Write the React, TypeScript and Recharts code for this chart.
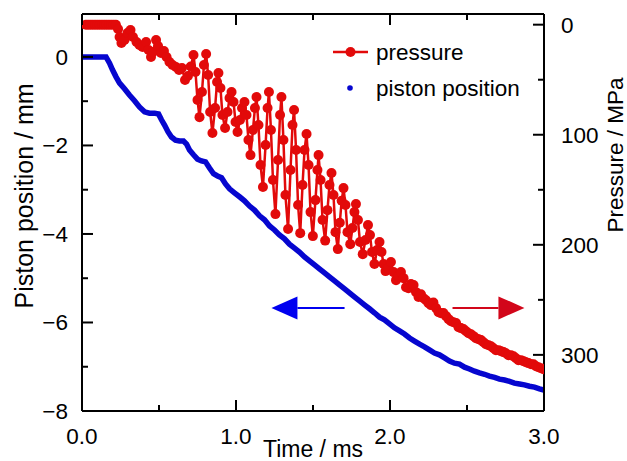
import React from 'react';
import { LineChart, Line, XAxis, YAxis, ReferenceLine, Legend } from 'recharts';

// pressure trace (time in ms, pressure in MPa)
const pressureTime = [
  0.025, 0.04, 0.055, 0.07, 0.085, 0.1, 0.115, 0.13, 0.145, 0.16, 0.175, 0.19, 0.205, 0.22,
  0.234, 0.244, 0.256, 0.276, 0.295, 0.315, 0.331, 0.354, 0.373, 0.393, 0.416, 0.432, 0.448,
  0.461, 0.481, 0.494, 0.513, 0.532, 0.549, 0.568, 0.588, 0.61, 0.63, 0.649, 0.669, 0.688, 0.706,
  0.724, 0.737, 0.75, 0.763, 0.779, 0.792,
  0.806, 0.819, 0.832, 0.847, 0.864, 0.877,
  0.886, 0.899, 0.912, 0.929, 0.945, 0.958,
  0.971, 0.984, 0.997, 1.01, 1.026, 1.039,
  1.055, 1.068, 1.081, 1.094, 1.11, 1.123,
  1.133, 1.146, 1.159, 1.175, 1.192, 1.205,
  1.214, 1.227, 1.24, 1.256, 1.273, 1.286,
  1.295, 1.308, 1.321, 1.338, 1.354, 1.367,
  1.377, 1.39, 1.403, 1.417, 1.432, 1.445,
  1.458, 1.471, 1.484, 1.499, 1.516, 1.529,
  1.536, 1.549, 1.562, 1.579, 1.594, 1.607,
  1.62, 1.633, 1.646, 1.661, 1.674, 1.686,
  1.698, 1.711, 1.724, 1.742, 1.756, 1.769,
  1.779, 1.792, 1.805, 1.823, 1.841,
  1.857, 1.87, 1.883, 1.899, 1.916,
  1.932, 1.945, 1.958, 1.971,
  1.987, 2.006, 2.023, 2.039, 2.055, 2.071, 2.088, 2.104, 2.12, 2.136, 2.153, 2.169, 2.185,
  2.201, 2.218, 2.234, 2.25, 2.266, 2.282, 2.299, 2.315, 2.331, 2.347, 2.364, 2.38, 2.396,
  2.412, 2.429, 2.445, 2.461, 2.477, 2.494, 2.51, 2.526, 2.542, 2.558, 2.575, 2.591, 2.607,
  2.623, 2.64, 2.656, 2.672, 2.688, 2.705, 2.721, 2.737, 2.753, 2.769, 2.786, 2.802, 2.818,
  2.834, 2.851, 2.867, 2.883, 2.899, 2.916, 2.932, 2.948, 2.964, 2.981, 2.997,
];
const pressureValues = [
  0, 0, 0, 0, 0, 0, 0, 0, 0, 0, 0, 0, 0, 0,
  4.0, 11.2, 16.6, 13.9, 7.5, 4.8, 11.2, 15.7, 18.5, 20.3, 15.7, 23.0, 29.4,
  24.8, 13.9, 19.4, 25.7, 23.9, 29.4, 33.9, 36.6, 38.5, 41.2, 39.4, 50.3, 46.6, 38.0,
  27.5, 43.0, 68.5, 84.0, 61.2, 36.6,
  26.6, 45.7, 79.4, 98.5, 75.7, 52.1,
  43.9, 57.5, 82.1, 93.9, 79.4, 66.6,
  61.2, 70.3, 88.5, 97.5, 86.6, 75.7,
  70.3, 82.1, 104.8, 118.5, 95.7, 75.7,
  65.7, 91.2, 127.5, 147.5, 109.4, 75.7,
  61.2, 95.7, 141.2, 172.1, 123.0, 82.1,
  65.7, 104.8, 154.8, 185.7, 132.1, 91.2,
  77.5, 113.9, 163.9, 189.4, 145.7, 113.9,
  99.4, 127.5, 170.3, 192.1, 159.4, 132.1,
  118.5, 141.2, 177.5, 196.2, 168.5, 145.7,
  134.8, 154.8, 188.5, 203.9, 180.0, 160.0,
  148.5, 163.9, 188.5, 199.4, 184.8, 170.3,
  163.0, 177.5, 197.5, 208.5, 195.7,
  182.1, 191.2, 206.6, 217.5, 204.8,
  197.5, 206.6, 217.5, 223.9,
  221.2, 215.7, 224.8, 232.1, 228.5, 224.8, 230.3, 238.5, 239.4, 235.7, 236.6, 243.0, 247.5,
  245.0, 248.5, 250.3, 253.0, 254.8, 252.5, 257.5, 261.2, 262.1, 262.0, 264.8, 267.5, 269.4,
  270.3, 271.0, 274.8, 275.7, 276.6, 278.5, 280.3, 281.2, 283.0, 284.8, 285.7, 286.6, 288.5,
  290.3, 291.2, 292.1, 294.0, 295.7, 295.7, 296.6, 297.5, 298.5, 300.3, 300.3, 301.2, 303.0,
  304.8, 304.8, 305.7, 306.6, 307.5, 308.5, 308.5, 310.3, 311.2, 312.1, 313.0,
];

// piston position trace (time in ms, position in mm)
const pistonTime = [
  0, 0.049, 0.114, 0.156, 0.179, 0.198, 0.221, 0.244, 0.276, 0.308, 0.341, 0.373, 0.406, 0.438,
  0.471, 0.497, 0.516, 0.536, 0.558, 0.581, 0.607, 0.633, 0.659, 0.679, 0.698, 0.724, 0.75,
  0.776, 0.802, 0.828, 0.854, 0.88, 0.906, 0.932, 0.958, 0.99, 1.023, 1.055, 1.088, 1.12,
  1.153, 1.185, 1.218, 1.25, 1.282, 1.315, 1.347, 1.38, 1.412, 1.445, 1.477, 1.51, 1.542,
  1.575, 1.607, 1.64, 1.672, 1.705, 1.737, 1.769, 1.802, 1.834, 1.867, 1.899, 1.932, 1.964,
  1.997, 2.029, 2.062, 2.094, 2.127, 2.159, 2.192, 2.224, 2.256, 2.289, 2.321, 2.354, 2.386,
  2.419, 2.451, 2.484, 2.516, 2.549, 2.581, 2.614, 2.646, 2.679, 2.711, 2.744, 2.776, 2.808,
  2.841, 2.873, 2.906, 2.938, 2.971, 3.0,
];
const pistonValues = [
  0, 0, 0, 0, -0.14, -0.29, -0.45, -0.59, -0.72, -0.86, -0.99, -1.13, -1.24, -1.27,
  -1.27, -1.29, -1.42, -1.54, -1.69, -1.81, -1.88, -1.9, -1.9, -1.97, -2.1, -2.21, -2.31,
  -2.35, -2.37, -2.51, -2.64, -2.69, -2.73, -2.87, -2.98, -3.07, -3.16, -3.25, -3.37, -3.46,
  -3.59, -3.68, -3.82, -3.91, -4.02, -4.11, -4.23, -4.32, -4.41, -4.52, -4.61, -4.7, -4.79,
  -4.88, -4.97, -5.06, -5.15, -5.24, -5.33, -5.42, -5.51, -5.6, -5.69, -5.78, -5.88, -5.94,
  -6.03, -6.12, -6.19, -6.26, -6.35, -6.42, -6.49, -6.55, -6.62, -6.69, -6.73, -6.8, -6.87,
  -6.92, -6.94, -7.01, -7.05, -7.1, -7.14, -7.17, -7.21, -7.24, -7.28, -7.3, -7.33, -7.37,
  -7.39, -7.41, -7.44, -7.46, -7.5, -7.53,
];

const timeTicks = [0, 0.5, 1, 1.5, 2, 2.5, 3];
const positionTicks = [-8, -7, -6, -5, -4, -3, -2, -1, 0];
const pressureTicks = [0, 50, 100, 150, 200, 250, 300];

const pressureData = pressureTime.map((t, i) => ({ t, p: pressureValues[i] }));
const pistonData = pistonTime.map((t, i) => ({ t, pos: pistonValues[i] }));

const RED = '#e20a0a';
const BLUE = '#0606cf';
const FONT = '"Liberation Sans", Arial, Helvetica, sans-serif';
const TICK_FONT = 22.5;
const MAJOR = 11;
const MINOR = 6;

const BottomTick = (props: any) => {
  const { x, y, payload } = props;
  const major = Number.isInteger(payload.value);
  return (
    <g>
      <line x1={x} x2={x} y1={y} y2={y - (major ? MAJOR : MINOR)} stroke="#000" strokeWidth={2} />
      {major && (
        <text x={x} y={y + 33} textAnchor="middle" fontSize={TICK_FONT} fontFamily={FONT} fill="#000">
          {payload.value.toFixed(1)}
        </text>
      )}
    </g>
  );
};

const TopTick = (props: any) => {
  const { x, y, payload } = props;
  const major = Number.isInteger(payload.value);
  return <line x1={x} x2={x} y1={y} y2={y + (major ? MAJOR : MINOR)} stroke="#000" strokeWidth={2} />;
};

const LeftTick = (props: any) => {
  const { x, y, payload } = props;
  const major = payload.value % 2 === 0;
  return (
    <g>
      <line x1={x} x2={x + (major ? MAJOR : MINOR)} y1={y} y2={y} stroke="#000" strokeWidth={2} />
      {major && (
        <text x={x - 14} y={y + 8} textAnchor="end" fontSize={TICK_FONT} fontFamily={FONT} fill="#000">
          {payload.value < 0 ? '\u2212' + Math.abs(payload.value) : payload.value}
        </text>
      )}
    </g>
  );
};

const RightTick = (props: any) => {
  const { x, y, payload } = props;
  const major = payload.value % 100 === 0;
  return (
    <g>
      <line x1={x} x2={x - (major ? MAJOR : MINOR)} y1={y} y2={y} stroke="#000" strokeWidth={2} />
      {major && (
        <text x={x + 17} y={y + 8} textAnchor="start" fontSize={TICK_FONT} fontFamily={FONT} fill="#000">
          {payload.value}
        </text>
      )}
    </g>
  );
};

// arrow drawn along a reference segment, head on the given side
const arrowShape = (dir: 'left' | 'right', color: string) => (props: any) => {
  const { x1, x2, y1 } = props;
  const a = Math.min(x1, x2);
  const b = Math.max(x1, x2);
  const head = 26;
  const half = 11.5;
  if (dir === 'left') {
    return (
      <g>
        <line x1={a + head} x2={b} y1={y1} y2={y1} stroke={color} strokeWidth={2} />
        <polygon points={`${a},${y1} ${a + head},${y1 - half} ${a + head},${y1 + half}`} fill={color} />
      </g>
    );
  }
  return (
    <g>
      <line x1={a} x2={b - head} y1={y1} y2={y1} stroke={color} strokeWidth={2} />
      <polygon points={`${b},${y1} ${b - head},${y1 - half} ${b - head},${y1 + half}`} fill={color} />
    </g>
  );
};

const renderLegend = () => (
  <svg width={230} height={80} style={{ display: 'block' }}>
    <line x1={8} x2={43} y1={16} y2={16} stroke={RED} strokeWidth={2.5} />
    <circle cx={25.5} cy={16} r={5} fill={RED} />
    <text x={51} y={24} fontSize={22.5} fontFamily={FONT} fill="#000">pressure</text>
    <circle cx={25} cy={52} r={2.8} fill={BLUE} />
    <text x={51} y={60} fontSize={22.5} fontFamily={FONT} fill="#000">piston position</text>
  </svg>
);

export default function App() {
  return (
    <div style={{ position: 'absolute', left: 0, top: 0, width: 627, height: 461, background: '#fff' }}>
      <LineChart width={627} height={461} margin={{ top: 0, right: 0, bottom: 0, left: 0 }}>
        <XAxis
          xAxisId="b"
          type="number"
          dataKey="t"
          domain={[0, 3]}
          ticks={timeTicks}
          interval={0}
          allowDataOverflow
          height={50}
          tickSize={0}
          tickMargin={0}
          tickLine={false}
          axisLine={{ stroke: '#000', strokeWidth: 2 }}
          tick={<BottomTick />}
          label={{ value: 'Time / ms', position: 'insideBottom', offset: 4, fontSize: 23, fill: '#000', fontFamily: FONT }}
        />
        <XAxis
          xAxisId="t"
          orientation="top"
          type="number"
          dataKey="t"
          domain={[0, 3]}
          ticks={timeTicks}
          interval={0}
          allowDataOverflow
          height={14}
          tickSize={0}
          tickMargin={0}
          tickLine={false}
          axisLine={{ stroke: '#000', strokeWidth: 2 }}
          tick={<TopTick />}
        />
        <YAxis
          yAxisId="L"
          type="number"
          domain={[-8, 0.97]}
          ticks={positionTicks}
          interval={0}
          allowDataOverflow
          width={82}
          tickSize={0}
          tickMargin={0}
          tickLine={false}
          axisLine={{ stroke: '#000', strokeWidth: 2 }}
          tick={<LeftTick />}
          label={{
            content: () => (
              <text transform="translate(33,196) rotate(-90)" textAnchor="middle" fontSize={25} fontFamily={FONT} fill="#000">
                Piston position / mm
              </text>
            ),
          }}
        />
        <YAxis
          yAxisId="R"
          orientation="right"
          type="number"
          domain={[-9.7, 351]}
          reversed
          ticks={pressureTicks}
          interval={0}
          allowDataOverflow
          width={83}
          tickSize={0}
          tickMargin={0}
          tickLine={false}
          axisLine={{ stroke: '#000', strokeWidth: 2 }}
          tick={<RightTick />}
          label={{
            content: () => (
              <text transform="translate(623,155) rotate(-90)" textAnchor="middle" fontSize={22.5} fontFamily={FONT} fill="#000">
                Pressure / MPa
              </text>
            ),
          }}
        />
        <Legend
          layout="vertical"
          align="center"
          verticalAlign="middle"
          content={renderLegend}
          wrapperStyle={{ position: 'absolute', left: 325, top: 36, width: 230, height: 80 }}
        />
        <ReferenceLine
          xAxisId="b"
          yAxisId="L"
          segment={[{ x: 1.23, y: -5.67 }, { x: 1.705, y: -5.67 }]}
          shape={arrowShape('left', '#0000f0')}
        />
        <ReferenceLine
          xAxisId="b"
          yAxisId="L"
          segment={[{ x: 2.406, y: -5.67 }, { x: 2.873, y: -5.67 }]}
          shape={arrowShape('right', '#d2061a')}
        />
        <Line
          xAxisId="b"
          yAxisId="L"
          data={pistonData}
          dataKey="pos"
          type="linear"
          stroke={BLUE}
          strokeWidth={5.5}
          dot={false}
          isAnimationActive={false}
        />
        <Line
          xAxisId="b"
          yAxisId="R"
          data={pressureData}
          dataKey="p"
          type="linear"
          stroke={RED}
          strokeWidth={2.5}
          dot={{ r: 5, fill: RED, stroke: RED, strokeWidth: 0 }}
          isAnimationActive={false}
        />
      </LineChart>
    </div>
  );
}
